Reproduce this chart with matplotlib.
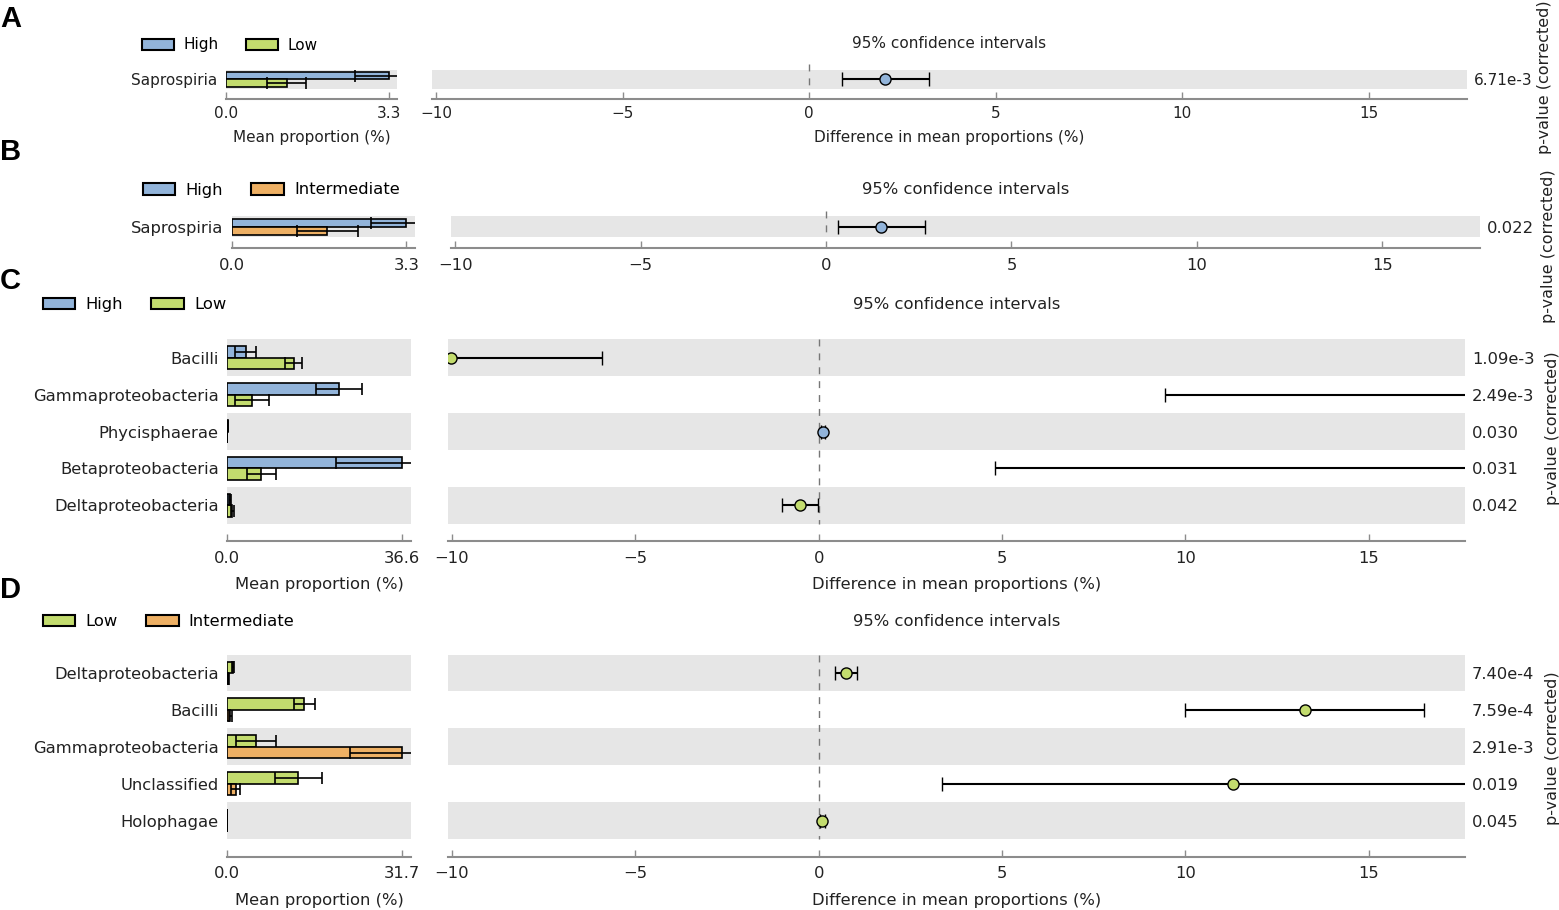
import numpy as np
import matplotlib
matplotlib.use("Agg")
import matplotlib.pyplot as plt
from matplotlib.patches import Patch

# ----------------------------
# Daten
# ----------------------------
c_high = "#92b4da"
c_low = "#c3dc6e"
c_inter = "#eeb064"
c_band = "#e6e6e6"
c_axis = "#8c8c8c"

# Panel A: High vs Low
a_classes = ["Saprospiria"]
a_m1 = [3.3]
a_s1 = [0.69]
a_m2 = [1.23]
a_s2 = [0.39]
a_diff = [2.03]
a_ci_lo = [0.87]
a_ci_hi = [3.20]
a_pvals = ["6.71e-3"]
a_max = 3.3

# Panel B: High vs Intermediate
b_classes = ["Saprospiria"]
b_m1 = [3.3]
b_s1 = [0.67]
b_m2 = [1.81]
b_s2 = [0.57]
b_diff = [1.49]
b_ci_lo = [0.31]
b_ci_hi = [2.68]
b_pvals = ["0.022"]
b_max = 3.3

# Panel C: High vs Low
c_classes = ["Bacilli", "Gammaproteobacteria", "Phycisphaerae",
             "Betaproteobacteria", "Deltaproteobacteria"]
c_m1 = [3.9, 23.4, 0.15, 36.6, 0.6]
c_s1 = [2.2, 4.8, 0.05, 13.9, 0.2]
c_m2 = [13.9, 5.2, 0.05, 7.2, 1.1]
c_s2 = [1.85, 3.6, 0.03, 3.0, 0.3]
c_diff = [-10.02, 18.2, 0.12, 29.4, -0.52]
c_ci_lo = [-14.1, 9.45, 0.07, 4.8, -1.01]
c_ci_hi = [-5.92, 26.95, 0.17, 54.0, -0.02]
c_pvals = ["1.09e-3", "2.49e-3", "0.030", "0.031", "0.042"]
c_max = 36.6

# Panel D: Low vs Intermediate
d_classes = ["Deltaproteobacteria", "Bacilli", "Gammaproteobacteria",
             "Unclassified", "Holophagae"]
d_m1 = [1.1, 14.0, 5.2, 12.9, 0.05]
d_s1 = [0.2, 1.9, 3.6, 4.3, 0.02]
d_m2 = [0.2, 0.6, 31.7, 1.6, 0.03]
d_s2 = [0.1, 0.3, 9.4, 0.8, 0.01]
d_diff = [0.75, 13.26, -26.5, 11.3, 0.1]
d_ci_lo = [0.45, 10.0, -36.0, 3.36, 0.04]
d_ci_hi = [1.05, 16.5, -17.0, 19.2, 0.16]
d_pvals = ["7.40e-4", "7.59e-4", "2.91e-3", "0.019", "0.045"]
d_max = 31.7

diff_ticks = [-10, -5, 0, 5, 10, 15]
diff_xlim = (-10.11, 17.63)

# ----------------------------
# Layout
# ----------------------------
W, H = 1559, 910
plt.rcParams["font.family"] = ["DejaVu Sans"]
plt.rcParams["font.size"] = 11
fig = plt.figure(figsize=(W / 100, H / 100), dpi=100)
TXT = "#222222"


def rect(x0, x1, y0, y1):
    return [x0 / W, 1 - y1 / H, (x1 - x0) / W, (y1 - y0) / H]


def style_axis(ax, fs, pad):
    for s in ["top", "right", "left"]:
        ax.spines[s].set_visible(False)
    ax.spines["bottom"].set_color(c_axis)
    ax.spines["bottom"].set_linewidth(1.5)
    ax.tick_params(axis="x", direction="in", length=5, width=1, color=c_axis,
                   labelcolor=TXT, labelsize=fs, pad=pad)
    ax.tick_params(axis="y", length=0, labelcolor=TXT, labelsize=fs)


def panel(letter, letter_y, classes, g1, g2, col1, col2, m1, s1, m2, s2,
          diff, ci_lo, ci_hi, pvals, vmax, L, R, top, first_c, row_h,
          spine_y, bar_h, leg, title_y, pv_lab, fs=11.8, xlabels=True,
          tpad=7, lpad=8):
    n = len(classes)
    y = np.arange(n)
    ylim = ((spine_y - first_c) / row_h, (top - first_c) / row_h)

    # Balken links
    axL = fig.add_axes(rect(L[0], L[1], top, spine_y))
    for i in range(0, n, 2):
        axL.axhspan(i - 0.5, i + 0.5, color=c_band, lw=0, zorder=0)
    ekw = dict(ecolor="black", capsize=4, elinewidth=1.2, capthick=1.2)
    axL.barh(y - bar_h / 2, m1, height=bar_h, color=col1, edgecolor="black",
             lw=1.2, xerr=s1, error_kw=ekw, zorder=2)
    axL.barh(y + bar_h / 2, m2, height=bar_h, color=col2, edgecolor="black",
             lw=1.2, xerr=s2, error_kw=ekw, zorder=2)
    axL.set_xlim(0, vmax * 1.05)
    axL.set_ylim(*ylim)
    axL.set_xticks([0, vmax])
    axL.set_xticklabels(["0.0", f"{vmax}"])
    axL.set_yticks(y)
    axL.set_yticklabels(classes)
    style_axis(axL, fs, tpad)
    axL.tick_params(axis="y", pad=6)
    if xlabels:
        axL.set_xlabel("Mean proportion (%)", labelpad=lpad, color=TXT,
                       fontsize=fs)

    # Differenzen rechts
    axR = fig.add_axes(rect(R[0], R[1], top, spine_y))
    for i in range(0, n, 2):
        axR.axhspan(i - 0.5, i + 0.5, color=c_band, lw=0, zorder=0)
    axR.plot([0, 0], [ylim[1], n - 0.5], ls=(0, (5, 5)), color="#777777",
             lw=1, zorder=1)
    for i in range(n):
        col = col1 if diff[i] > 0 else col2
        axR.errorbar(diff[i], i, xerr=[[diff[i] - ci_lo[i]], [ci_hi[i] - diff[i]]],
                     fmt="o", ms=8, mfc=col, mec="black", mew=1,
                     ecolor="black", elinewidth=1.5, capsize=5, capthick=1.2,
                     zorder=3)
    axR.set_xlim(*diff_xlim)
    axR.set_ylim(*ylim)
    axR.set_xticks(diff_ticks)
    axR.set_yticks([])
    style_axis(axR, fs, tpad)
    if xlabels:
        axR.set_xlabel("Difference in mean proportions (%)", labelpad=lpad,
                       color=TXT, fontsize=fs)

    axP = axR.twinx()
    axP.set_ylim(*ylim)
    axP.set_yticks(y)
    axP.set_yticklabels(pvals)
    for s in axP.spines.values():
        s.set_visible(False)
    axP.tick_params(axis="y", length=0, pad=5, labelsize=fs, labelcolor=TXT)

    fig.text((R[0] + R[1]) / 2 / W, 1 - title_y / H, "95% confidence intervals",
             ha="center", va="center", color=TXT, fontsize=fs)
    fig.text(pv_lab[0] / W, 1 - pv_lab[1] / H, "p-value (corrected)",
             rotation=90, ha="center", va="center", color=TXT, fontsize=11.5)
    fig.text(0.0, 1 - letter_y / H, letter, fontsize=21, fontweight="bold",
             family=["Liberation Sans", "DejaVu Sans"], ha="left", va="center")

    handles = [Patch(facecolor=col1, edgecolor="black", lw=1.5, label=g1),
               Patch(facecolor=col2, edgecolor="black", lw=1.5, label=g2)]
    fig.legend(handles=handles, loc="center left",
               bbox_to_anchor=(leg[0] / W, 1 - leg[1] / H), ncol=2,
               frameon=False, handlelength=2.0 * 11.8 / fs,
               handleheight=0.7 * 11.8 / fs, handletextpad=0.6,
               columnspacing=1.75, borderpad=0, borderaxespad=0, fontsize=fs)


panel("A", 19, a_classes, "High", "Low", c_high, c_low, a_m1, a_s1, a_m2, a_s2,
      a_diff, a_ci_lo, a_ci_hi, a_pvals, a_max,
      L=(226, 397), R=(432, 1467), top=64, first_c=79.3, row_h=19,
      spine_y=99.3, bar_h=0.38, leg=(141.7, 45), title_y=44, pv_lab=(1545, 77),
      fs=11, tpad=5, lpad=6)

panel("B", 152, b_classes, "High", "Intermediate", c_high, c_inter,
      b_m1, b_s1, b_m2, b_s2, b_diff, b_ci_lo, b_ci_hi, b_pvals, b_max,
      L=(231.7, 415), R=(451, 1480), top=211, first_c=226.7, row_h=21.3,
      spine_y=248.5, bar_h=0.37, leg=(142.7, 190), title_y=189,
      pv_lab=(1548, 246), xlabels=False)

panel("C", 281, c_classes, "High", "Low", c_high, c_low, c_m1, c_s1, c_m2, c_s2,
      c_diff, c_ci_lo, c_ci_hi, c_pvals, c_max,
      L=(227, 411), R=(448, 1465), top=339, first_c=357.7, row_h=36.9,
      spine_y=541, bar_h=0.31, leg=(42.7, 305), title_y=305, pv_lab=(1552, 428))

panel("D", 590, d_classes, "Low", "Intermediate", c_low, c_inter,
      d_m1, d_s1, d_m2, d_s2, d_diff, d_ci_lo, d_ci_hi, d_pvals, d_max,
      L=(227, 411), R=(448, 1465), top=655, first_c=673, row_h=36.9,
      spine_y=856.7, bar_h=0.31, leg=(42.7, 621.7), title_y=621,
      pv_lab=(1552, 748))

fig.savefig("out.png", dpi=100)
